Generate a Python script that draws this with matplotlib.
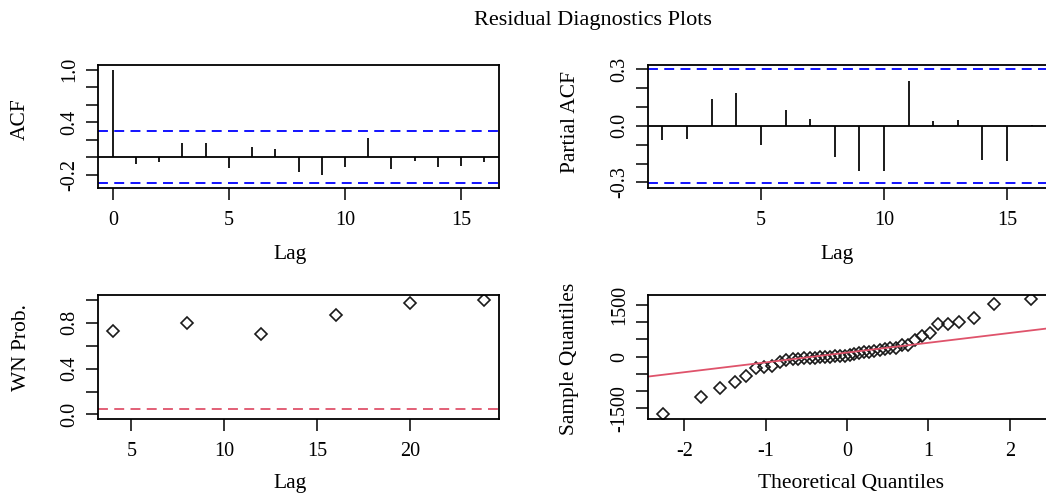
import numpy as np
import matplotlib
matplotlib.use('Agg')
import matplotlib.pyplot as plt

plt.rcParams['font.family'] = ['Liberation Serif', 'DejaVu Serif']
plt.rcParams['axes.unicode_minus'] = False

# acf / pacf of the residuals
acf_lags = list(range(0, 17))
acf_vals = [1.0, -0.08, -0.06, 0.16, 0.16, -0.13, 0.11, 0.095, -0.168, -0.20,
            -0.114, 0.217, -0.133, -0.046, -0.11, -0.10, -0.06]
pacf_lags = list(range(1, 17))
pacf_vals = [-0.076, -0.069, 0.141, 0.173, -0.10, 0.085, 0.037, -0.166, -0.238,
             -0.238, 0.238, 0.023, 0.028, -0.18, -0.189, 0.004]
conf_limit = 0.302

# white noise test p-values
wn_lags = [4, 8, 12, 16, 20, 24]
wn_probs = [0.726, 0.797, 0.703, 0.864, 0.970, 0.998]
wn_level = 0.05

# normal Q-Q
theo_q = [-2.26, -1.80, -1.56, -1.38, -1.24, -1.12, -1.02, -0.92, -0.83, -0.75,
          -0.67, -0.60, -0.53, -0.46, -0.40, -0.33, -0.27, -0.21, -0.15, -0.09,
          -0.03, 0.03, 0.09, 0.15, 0.21, 0.27, 0.33, 0.40, 0.46, 0.53,
          0.60, 0.67, 0.75, 0.83, 0.92, 1.02, 1.12, 1.24, 1.38, 1.56, 1.80, 2.26]
sample_q = [-1660, -1170, -910, -725, -560, -340, -300, -260, -170, -110,
            -80, -70, -55, -40, -30, -20, -10, 0, 5, 10,
            20, 40, 70, 110, 120, 140, 170, 190, 220, 240,
            260, 320, 330, 492, 590, 683, 935, 950, 995, 1120, 1513, 1650]

W, H = 1046, 497
BLUE = '#0000FF'
RED = '#DF536B'
TICK_FS = 14.5
LAB_FS = 15.5


def make_axes(fig, left, top, right, bottom):
    ax = fig.add_axes([left / W, 1 - bottom / H, (right - left) / W, (bottom - top) / H])
    for s in ax.spines.values():
        s.set_linewidth(1.3)
        s.set_color('black')
    ax.tick_params(axis='both', direction='out', length=8.5, width=1.1,
                   labelsize=TICK_FS, colors='black')
    ax.tick_params(axis='x', pad=8)
    ax.tick_params(axis='y', pad=5)
    return ax


def set_yticks(ax, ticks, shown, fmt):
    ax.set_yticks(ticks)
    ax.set_yticklabels([fmt(t) if t in shown else '' for t in ticks],
                       rotation=90, va='center')


def place_labels(ax, xlab, ylab, xpos, ypos):
    ax.set_xlabel(xlab, fontsize=LAB_FS)
    ax.set_ylabel(ylab, fontsize=LAB_FS)
    ax.xaxis.label.set_va('center')
    ax.yaxis.label.set_va('center')
    ax.xaxis.set_label_coords(*xpos)
    ax.yaxis.set_label_coords(*ypos)


fig = plt.figure(figsize=(W / 100, H / 100), dpi=100)

# ACF
ax1 = make_axes(fig, 98, 65, 499, 188)
ax1.vlines(acf_lags, 0, acf_vals, color='#1a1a1a', lw=1.4)
ax1.axhline(0, color='black', lw=1.3)
for c in (conf_limit, -conf_limit):
    ax1.axhline(c, color=BLUE, lw=1.3, ls=(0, (5.5, 3.5)))
ax1.set_xlim(-0.64, 16.64)
ax1.set_ylim(-0.354, 1.052)
ax1.set_xticks([0, 5, 10, 15])
set_yticks(ax1, [-0.2, 0.0, 0.2, 0.4, 0.6, 0.8, 1.0], [1.0, 0.4, -0.2],
           lambda t: '%.1f' % t)
place_labels(ax1, 'Lag', 'ACF', (0.478, -0.537), (-0.1945, 0.561))

# PACF
ax2 = make_axes(fig, 647.7, 64.7, 1046.5, 188.3)
ax2.spines['right'].set_visible(False)
ax2.vlines(pacf_lags, 0, pacf_vals, color='#1a1a1a', lw=1.4)
ax2.axhline(0, color='black', lw=1.3)
for c in (conf_limit, -conf_limit):
    ax2.axhline(c, color=BLUE, lw=1.3, ls=(0, (5.5, 3.5)))
ax2.set_xlim(0.4, 16.6)
ax2.set_ylim(-0.331, 0.323)
ax2.set_xticks([5, 10, 15])
set_yticks(ax2, [-0.3, -0.2, -0.1, 0.0, 0.1, 0.2, 0.3], [0.3, 0.0, -0.3],
           lambda t: '%.1f' % t)
place_labels(ax2, 'Lag', 'Partial ACF', (0.476, -0.537), (-0.1925, 0.536))

# WN probabilities
ax3 = make_axes(fig, 98, 294.7, 499, 419.3)
ax3.plot(wn_lags, wn_probs, ls='none', marker='D', ms=6, mfc='none',
         mec='#1a1a1a', mew=1.2)
ax3.axhline(wn_level, color=RED, lw=1.3, ls=(0, (5.5, 3.5)))
ax3.set_xlim(3.2, 24.8)
ax3.set_ylim(-0.042, 1.045)
ax3.set_xticks([5, 10, 15, 20])
set_yticks(ax3, [0.0, 0.2, 0.4, 0.6, 0.8, 1.0], [0.0, 0.4, 0.8],
           lambda t: '%.1f' % t)
place_labels(ax3, 'Lag', 'WN Prob.', (0.478, -0.519), (-0.19, 0.572))

# Normal Q-Q
ax4 = make_axes(fig, 647.7, 295.3, 1046.5, 419.3)
ax4.spines['right'].set_visible(False)
ax4.plot(theo_q, sample_q, ls='none', marker='D', ms=6, mfc='none',
         mec='#1a1a1a', mew=1.2)
q1, q3 = np.percentile(sample_q, [25, 75])
slope = (q3 - q1) / (2 * 0.6745)
intercept = q1 + slope * 0.6745
ax4.axline((0, intercept), slope=slope, color=RED, lw=1.3)
ax4.set_xlim(-2.45, 2.45)
ax4.set_ylim(-1815, 1770)
ax4.set_xticks([-2, -1, 0, 1, 2])
set_yticks(ax4, [-1500, -1000, -500, 0, 500, 1000, 1500], [-1500, 0, 1500],
           lambda t: '%d' % t)
place_labels(ax4, 'Theoretical Quantiles', 'Sample Quantiles',
             (0.51, -0.519), (-0.195, 0.49))

fig.text(593 / W, 1 - 20 / H, 'Residual Diagnostics Plots', ha='center',
         va='center', fontsize=16)

fig.savefig('out.png', dpi=100)
